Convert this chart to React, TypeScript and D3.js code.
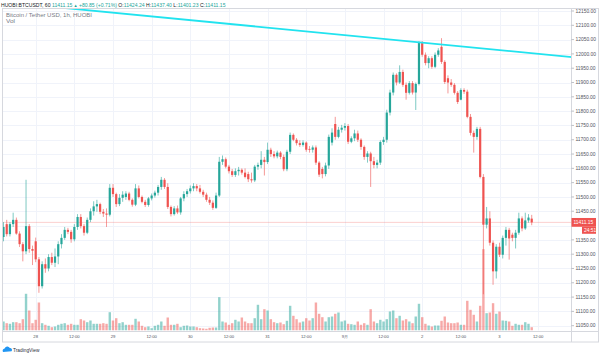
import React from "react";
import * as d3 from "d3";

// ---------- DATA ----------
const firstCandleUtc = Date.UTC(2020, 7, 27, 14); // hourly candles
const opens = [
  11360, 11405, 11370, 11405, 11420, 11372, 11335, 11310, 11398, 11318,
  11345, 11282, 11188, 11265, 11250, 11290, 11270, 11292, 11335, 11357,
  11385, 11378, 11352, 11395, 11430, 11398, 11375, 11420, 11450, 11467,
  11475, 11448, 11442, 11438, 11532, 11510, 11475, 11497, 11500, 11512,
  11490, 11473, 11530, 11500, 11483, 11472, 11495, 11505, 11515, 11535,
  11560, 11535, 11465, 11440, 11460, 11446, 11495, 11510, 11520, 11530,
  11538, 11530, 11518, 11508, 11490, 11480, 11462, 11505, 11623, 11632,
  11606, 11590, 11577, 11590, 11595, 11585, 11580, 11562, 11558, 11606,
  11612, 11630, 11622, 11665, 11650, 11642, 11655, 11640, 11597, 11658,
  11717, 11700, 11688, 11682, 11690, 11668, 11665, 11673, 11620, 11598,
  11580, 11610, 11690, 11755, 11710, 11735, 11742, 11748, 11693, 11705,
  11722, 11700, 11675, 11640, 11652, 11625, 11612, 11620, 11692, 11700,
  11795, 11865, 11927, 11900, 11937, 11892, 11864, 11898, 11865, 11895,
  12038, 11997, 11968, 11985, 11955, 11997, 12025, 11972, 11915, 11900,
  11892, 11864, 11840, 11874, 11868, 11780, 11724, 11710, 11738, 11570,
  11403, 11425, 11340, 11240, 11326, 11298, 11357, 11385, 11368, 11357,
  11375, 11425, 11390, 11418, 11424.24,
];
const highs = [
  11412, 11420, 11412, 11445, 11428, 11380, 11342, 11560, 11405, 11330,
  11358, 11290, 11275, 11285, 11300, 11305, 11320, 11345, 11370, 11395,
  11392, 11385, 11405, 11440, 11440, 11405, 11428, 11460, 11485, 11490,
  11480, 11458, 11460, 11545, 11545, 11515, 11510, 11520, 11520, 11518,
  11495, 11545, 11540, 11505, 11490, 11500, 11512, 11522, 11542, 11570,
  11566, 11548, 11470, 11468, 11470, 11500, 11520, 11528, 11540, 11548,
  11545, 11542, 11525, 11515, 11500, 11488, 11515, 11640, 11645, 11638,
  11612, 11598, 11600, 11605, 11600, 11600, 11588, 11585, 11612, 11620,
  11660, 11640, 11690, 11672, 11660, 11662, 11660, 11648, 11665, 11725,
  11722, 11706, 11698, 11698, 11694, 11678, 11680, 11680, 11625, 11605,
  11620, 11718, 11740, 11780, 11745, 11752, 11758, 11755, 11712, 11735,
  11732, 11705, 11680, 11660, 11658, 11640, 11630, 11698, 11710, 11805,
  11875, 11935, 11932, 11960, 11945, 11900, 11905, 11905, 11900, 12045,
  12045, 12005, 11992, 11992, 12005, 12020, 12055, 11978, 11925, 11912,
  11898, 11870, 11880, 11880, 11875, 11790, 11732, 11745, 11745, 11580,
  11465, 11450, 11348, 11335, 11340, 11365, 11395, 11392, 11375, 11385,
  11445, 11432, 11445, 11440, 11437.4,
];
const lows = [
  11345, 11362, 11362, 11395, 11368, 11325, 11275, 11300, 11305, 11262,
  11272, 11165, 11180, 11235, 11240, 11262, 11255, 11265, 11320, 11350,
  11370, 11340, 11345, 11385, 11390, 11365, 11370, 11412, 11435, 11448,
  11440, 11430, 11395, 11432, 11500, 11465, 11468, 11483, 11490, 11485,
  11466, 11468, 11495, 11478, 11465, 11466, 11488, 11498, 11505, 11525,
  11528, 11458, 11432, 11435, 11440, 11438, 11485, 11500, 11512, 11520,
  11520, 11512, 11500, 11483, 11472, 11455, 11458, 11500, 11612, 11600,
  11582, 11570, 11570, 11575, 11578, 11565, 11552, 11550, 11552, 11595,
  11600, 11575, 11615, 11640, 11635, 11635, 11632, 11590, 11590, 11650,
  11695, 11680, 11675, 11676, 11658, 11655, 11655, 11612, 11570, 11565,
  11572, 11598, 11680, 11700, 11705, 11725, 11732, 11685, 11688, 11695,
  11692, 11665, 11630, 11620, 11535, 11600, 11600, 11612, 11682, 11690,
  11785, 11855, 11890, 11895, 11885, 11840, 11858, 11858, 11804, 11890,
  11990, 11960, 11950, 11948, 11950, 11990, 11965, 11895, 11862, 11885,
  11858, 11825, 11838, 11860, 11775, 11715, 11655, 11700, 11565, 11160,
  11390, 11330, 11193, 11215, 11290, 11285, 11330, 11281, 11345, 11320,
  11368, 11380, 11385, 11410, 11401.23,
];
const closes = [
  11395, 11370, 11405, 11420, 11372, 11335, 11310, 11398, 11318, 11312,
  11282, 11188, 11265, 11250, 11290, 11270, 11292, 11335, 11357, 11385,
  11378, 11352, 11395, 11430, 11398, 11375, 11420, 11450, 11467, 11475,
  11448, 11442, 11438, 11532, 11510, 11475, 11497, 11508, 11512, 11490,
  11473, 11530, 11500, 11483, 11472, 11495, 11505, 11515, 11535, 11560,
  11535, 11465, 11440, 11460, 11446, 11495, 11510, 11520, 11530, 11538,
  11530, 11518, 11508, 11490, 11480, 11462, 11505, 11623, 11632, 11606,
  11590, 11577, 11590, 11595, 11585, 11570, 11562, 11558, 11606, 11612,
  11630, 11622, 11665, 11650, 11642, 11655, 11640, 11597, 11658, 11717,
  11700, 11688, 11682, 11690, 11665, 11665, 11673, 11620, 11578, 11580,
  11610, 11710, 11725, 11710, 11735, 11742, 11748, 11693, 11705, 11722,
  11700, 11675, 11640, 11652, 11625, 11612, 11620, 11692, 11700, 11795,
  11865, 11927, 11900, 11937, 11892, 11864, 11898, 11865, 11895, 12038,
  11997, 11968, 11985, 11955, 11997, 12012, 11972, 11902, 11900, 11892,
  11864, 11832, 11874, 11868, 11780, 11724, 11710, 11738, 11570, 11403,
  11425, 11340, 11240, 11326, 11298, 11357, 11385, 11355, 11357, 11375,
  11425, 11390, 11418, 11428, 11411.15,
];
const volumes = [
  900, 730, 670, 830, 830, 730, 1130, 3670, 2000, 730,
  1070, 2800, 730, 570, 470, 330, 400, 570, 670, 730,
  570, 670, 570, 570, 1130, 1000, 830, 1000, 670, 670,
  670, 730, 670, 1830, 1000, 1230, 730, 830, 570, 570,
  570, 1170, 900, 470, 330, 400, 230, 470, 570, 900,
  470, 1300, 570, 570, 670, 330, 470, 500, 400, 400,
  330, 230, 200, 170, 270, 300, 300, 3330, 900, 800,
  570, 730, 1070, 900, 1300, 900, 730, 730, 1230, 2570,
  1130, 2130, 2000, 1130, 830, 730, 800, 630, 970, 2470,
  1470, 1130, 800, 900, 1230, 1000, 1230, 2800, 1670, 1330,
  900, 1330, 1400, 1670, 1800, 900, 1000, 670, 630, 570,
  900, 570, 730, 570, 2130, 900, 730, 1070, 900, 1130,
  1900, 2000, 1230, 1470, 1000, 1130, 900, 730, 1400, 2670,
  1330, 670, 500, 400, 500, 500, 970, 1400, 800, 730,
  730, 800, 570, 570, 2970, 2070, 1570, 900, 2470, 8130,
  1730, 1800, 2730, 1670, 1900, 1000, 970, 900, 470, 670,
  570, 570, 830, 670, 330,
];
const priceTicks = [
  11050, 11100, 11150, 11200, 11250, 11300, 11350, 11400, 11450, 11500, 11550,
  11600, 11650, 11700, 11750, 11800, 11850, 11900, 11950, 12000, 12050, 12100, 12150,
];
const timeTickLabels = [
  "28", "12:00", "29", "12:00", "30", "12:00", "31", "12:00",
  "9月", "12:00", "2", "12:00", "3", "12:00",
];
const trendPoints: [number, number][] = [
  [Date.UTC(2020, 7, 28, 9), 12160.5],
  [Date.UTC(2020, 8, 3, 22, 30), 11989],
];
const symbolLabel = "HUOBI:BTCUSDT, 60";
const lastPrice = 11411.15;
const changeLabel = "+80.85 (+0.71%)";
const ohlcLabels = ["O", "H", "L", "C"];
const ohlcValues = ["11424.24", "11437.40", "11401.23", "11411.15"];
const seriesTitle = "Bitcoin / Tether USD, 1h, HUOBI";
const volTitle = "Vol";
const countdown = "24:51";

// ---------- LAYOUT ----------
const W = 600, H = 357;
const paneL = 2.5, paneT = 8.5, paneR = 571.5, paneB = 330.5, frameR = 598.5, frameB = 342;
const UP = "#26a69a", DOWN = "#ef5350";
const UPV = "rgba(38,166,154,0.5)", DOWNV = "rgba(239,83,80,0.5)";
const FONT = "'Liberation Sans', 'DejaVu Sans', Arial, sans-serif";

export default function App() {
  const x = d3
    .scaleUtc()
    .domain([new Date(Date.UTC(2020, 7, 28, 0)), new Date(Date.UTC(2020, 8, 3, 0))])
    .range([35.7, 499.5]);
  const y = d3.scaleLinear().domain([11050, 12150]).range([325.7, 11]);
  const yv = d3.scaleLinear().domain([0, 8130]).range([paneB, 249.2]);
  const hour = 3600 * 1000;
  const candleX = (i: number) => x(new Date(firstCandleUtc + i * hour));
  const bodyW = 2.2;
  const volW = 2.4;

  const timeTicks = timeTickLabels.map((_, k) => new Date(Date.UTC(2020, 7, 28, 0) + k * 12 * hour));

  const tx0 = x(new Date(trendPoints[0][0]));
  const ty0 = y(trendPoints[0][1]);
  const tx1 = x(new Date(trendPoints[1][0]));
  const ty1 = y(trendPoints[1][1]);
  const slope = (ty1 - ty0) / (tx1 - tx0);
  const line = d3.line<[number, number]>();
  const trendPath = line([
    [paneL - 50, ty0 + slope * (paneL - 50 - tx0)],
    [paneR + 10, ty0 + slope * (paneR + 10 - tx0)],
  ]);

  const yLast = y(lastPrice);

  return (
    <svg
      width={W}
      height={H}
      style={{ position: "fixed", left: 0, top: 0, background: "#fff" }}
      fontFamily={FONT}
    >
      <defs>
        <clipPath id="pane">
          <rect x={paneL} y={paneT} width={paneR - paneL} height={paneB - paneT} />
        </clipPath>
      </defs>
      <rect x={0} y={0} width={W} height={H} fill="#fff" />

      {/* grid */}
      <g stroke="#f0f3fa" strokeWidth={1}>
        {priceTicks.map((p) => (
          <line key={"h" + p} x1={paneL} x2={paneR} y1={Math.round(y(p)) + 0.5} y2={Math.round(y(p)) + 0.5} />
        ))}
        {timeTicks.map((t, k) => (
          <line key={"v" + k} x1={Math.round(x(t)) + 0.5} x2={Math.round(x(t)) + 0.5} y1={paneT} y2={paneB} />
        ))}
      </g>

      <g clipPath="url(#pane)">
        {volumes.map((v, i) => {
          const up = closes[i] >= opens[i];
          return (
            <rect
              key={"vol" + i}
              x={candleX(i) - volW / 2}
              y={yv(v)}
              width={volW}
              height={paneB - yv(v)}
              fill={up ? UPV : DOWNV}
            />
          );
        })}

        <line x1={paneL} x2={paneR} y1={yLast} y2={yLast} stroke="rgba(239,83,80,0.35)" strokeWidth={0.8} />

        {closes.map((c, i) => {
          const o = opens[i];
          const up = c >= o;
          const col = up ? UP : DOWN;
          const cx = candleX(i);
          const top = y(Math.max(o, c));
          const bot = y(Math.min(o, c));
          return (
            <g key={"c" + i}>
              <line x1={cx} x2={cx} y1={y(highs[i])} y2={y(lows[i])} stroke={col} strokeWidth={0.8} opacity={0.75} />
              <rect x={cx - bodyW / 2} y={top} width={bodyW} height={Math.max(0.8, bot - top)} fill={col} />
            </g>
          );
        })}

        <path d={trendPath || ""} stroke="#21e3ef" strokeWidth={1.8} fill="none" />
      </g>

      {/* frame */}
      <g stroke="#d6d8de" strokeWidth={1} fill="none">
        <rect x={paneL} y={paneT} width={frameR - paneL} height={frameB - paneT} />
        <line x1={paneR} x2={paneR} y1={paneT} y2={frameB} />
        <line x1={paneL} x2={frameR} y1={paneB + 1} y2={paneB + 1} />
      </g>

      {/* price axis */}
      <g fontSize={4.9} fill="#50535e">
        {priceTicks
          .filter((p) => Math.abs(y(p) - yLast) > 8)
          .map((p) => (
            <g key={"pt" + p}>
              <line x1={paneR} x2={paneR + 2.5} y1={y(p)} y2={y(p)} stroke="#9598a1" strokeWidth={0.6} />
              <text x={575.5} y={y(p) + 1.7}>
                {p.toFixed(2)}
              </text>
            </g>
          ))}
      </g>
      <rect x={paneR} y={yLast - 4.4} width={24.5} height={8.8} fill={DOWN} />
      <text x={573.5} y={yLast + 1.8} fontSize={4.9} fill="#fff">
        {lastPrice.toFixed(2)}
      </text>
      <rect x={582} y={yLast + 4.4} width={14} height={7} fill={DOWN} />
      <text x={584} y={yLast + 9.6} fontSize={4.9} fill="#fff">
        {countdown}
      </text>

      {/* time axis */}
      <g fontSize={4.2} fill="#50535e" textAnchor="middle">
        {timeTicks.map((t, k) => (
          <text key={"tt" + k} x={x(t)} y={337.8}>
            {timeTickLabels[k]}
          </text>
        ))}
      </g>

      {/* header */}
      <text x={1} y={6.8} fontSize={5.1} fill="#131722">
        {symbolLabel}
        <tspan fill={UP}>{" " + lastPrice.toFixed(2)}</tspan>
        <tspan fill={UP} fontSize={4.2}>{" ▲ "}</tspan>
        <tspan fill={UP}>{changeLabel}</tspan>
        {ohlcLabels.map((l, k) => (
          <React.Fragment key={l}>
            <tspan>{" " + l + ":"}</tspan>
            <tspan fill={UP}>{ohlcValues[k]}</tspan>
          </React.Fragment>
        ))}
      </text>
      <g fontSize={4.8} fill="#787b86">
        <text x={6} y={16.5} textLength={86} lengthAdjust="spacingAndGlyphs">
          {seriesTitle}
        </text>
        <text x={6} y={22.6} textLength={9} lengthAdjust="spacingAndGlyphs">
          {volTitle}
        </text>
      </g>

      {/* TradingView logo */}
      <g>
        <path
          d="M3 352 a2.2 2.2 0 0 1 1.6-3.4 a2.8 2.8 0 0 1 5.2-0.6 a2 2 0 0 1 1.8 3.2 z"
          fill="#2196f3"
        />
        <text x={13} y={351.6} fontSize={4.8} fill="#2a2e39">
          TradingView
        </text>
      </g>
    </svg>
  );
}
